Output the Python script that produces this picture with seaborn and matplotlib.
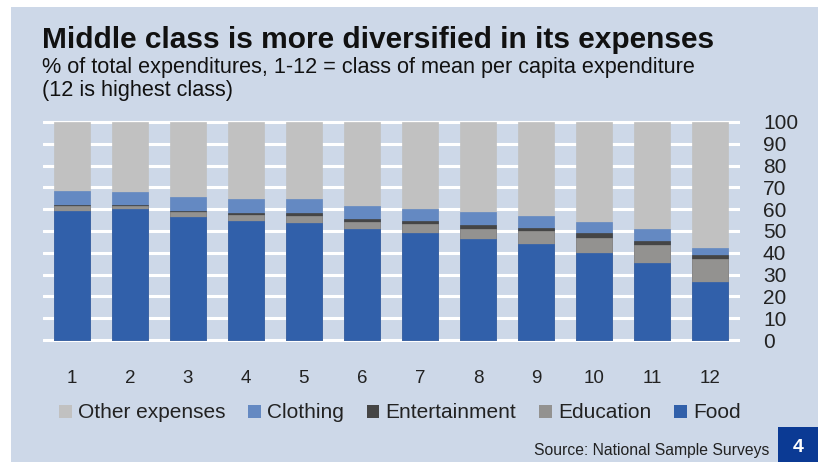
import numpy as np
import pandas as pd
import seaborn as sns
import matplotlib.pyplot as plt
from matplotlib.patches import Rectangle, Patch

# values (% of total expenditures)
classes = ['1', '2', '3', '4', '5', '6', '7', '8', '9', '10', '11', '12']
food = [59.4, 59.9, 56.2, 54.8, 53.8, 50.7, 48.9, 46.2, 44.1, 39.8, 35.1, 26.8]
education = [1.9, 1.7, 2.6, 2.6, 3.3, 3.5, 4.4, 4.9, 5.7, 7.1, 8.5, 10.4]
entertainment = [0.5, 0.4, 0.6, 0.9, 1.2, 1.1, 1.4, 1.6, 1.8, 2.0, 2.0, 2.0]
clothing = [6.4, 6.1, 6.3, 6.2, 6.2, 6.0, 5.5, 5.8, 5.4, 5.3, 5.4, 2.9]

df = pd.DataFrame({'class': classes, 'Food': food, 'Education': education,
                   'Entertainment': entertainment, 'Clothing': clothing})
df['Other expenses'] = 100 - df[['Food', 'Education', 'Entertainment', 'Clothing']].sum(axis=1)

series = ['Food', 'Education', 'Entertainment', 'Clothing', 'Other expenses']
colors = {'Food': '#3160aa', 'Education': '#939290', 'Entertainment': '#454545',
          'Clothing': '#6489c2', 'Other expenses': '#c1c1c1'}

# cumulative tops for stacking
cum = df[series].cumsum(axis=1)

bg = '#cdd8e8'
sns.set_style('white')
plt.rcParams['font.family'] = ['Liberation Sans', 'DejaVu Sans']

fig = plt.figure(figsize=(8.18, 4.62), dpi=100)
fig.patch.set_facecolor('white')
fig.patches.append(Rectangle((11 / 818, 0), 1, 1 - 7 / 462, transform=fig.transFigure,
                             facecolor=bg, edgecolor='none', zorder=-10))

# axes: y=-1 at px 342.2, y=101 at px 119.8
ax = fig.add_axes([43 / 818, 1 - 342.2 / 462, (740 - 43) / 818, (342.2 - 119.8) / 462])
ax.set_facecolor(bg)

for s in reversed(series):
    sns.barplot(x=df['class'], y=cum[s], color=colors[s], width=0.62, saturation=1,
                errorbar=None, ax=ax, zorder=3, edgecolor=colors[s], linewidth=0.5)

ax.set_ylim(-1, 101)
ax.set_xlim(-0.5, 11.52)
ax.set_yticks(range(0, 101, 10))
ax.yaxis.grid(True, color='white', linewidth=2.2, zorder=0)
ax.set_axisbelow(True)
ax.yaxis.tick_right()
ax.tick_params(axis='y', length=0, pad=16.5, labelsize=15, labelcolor='#222222')
ax.tick_params(axis='x', length=0, pad=20, labelsize=13.5, labelcolor='#222222')
ax.set_xlabel('')
ax.set_ylabel('')
sns.despine(ax=ax, left=True, bottom=True, right=True, top=True)

fig.text(42 / 818, 1 - 47.5 / 462, 'Middle class is more diversified in its expenses',
         fontsize=21.5, fontweight='bold', color='#111111', va='baseline')
fig.text(42 / 818, 1 - 73 / 462, '% of total expenditures, 1-12 = class of mean per capita expenditure',
         fontsize=15.6, color='#111111', va='baseline')
fig.text(42 / 818, 1 - 96 / 462, '(12 is highest class)',
         fontsize=15.6, color='#111111', va='baseline')

legend_order = ['Other expenses', 'Clothing', 'Entertainment', 'Education', 'Food']
handles = [Patch(facecolor=colors[s], edgecolor='none', label=s) for s in legend_order]
fig.legend(handles=handles, loc='center', bbox_to_anchor=(400 / 818, 1 - 413 / 462), ncol=5,
           frameon=False, fontsize=15, handlelength=0.6, handleheight=0.6,
           handletextpad=0.3, columnspacing=1.1, labelcolor='#222222')

fig.text(769 / 818, 1 - 451 / 462, 'Source: National Sample Surveys', fontsize=11.3,
         color='#222222', ha='right', va='center')
fig.patches.append(Rectangle((778 / 818, 0), 40 / 818, 35 / 462, transform=fig.transFigure,
                             facecolor='#0b3a94', edgecolor='none', zorder=5))
fig.text(798 / 818, 1 - 447 / 462, '4', fontsize=14, fontweight='bold', color='white',
         ha='center', va='center', zorder=6)

fig.savefig('out.png', dpi=100, facecolor=fig.get_facecolor())
